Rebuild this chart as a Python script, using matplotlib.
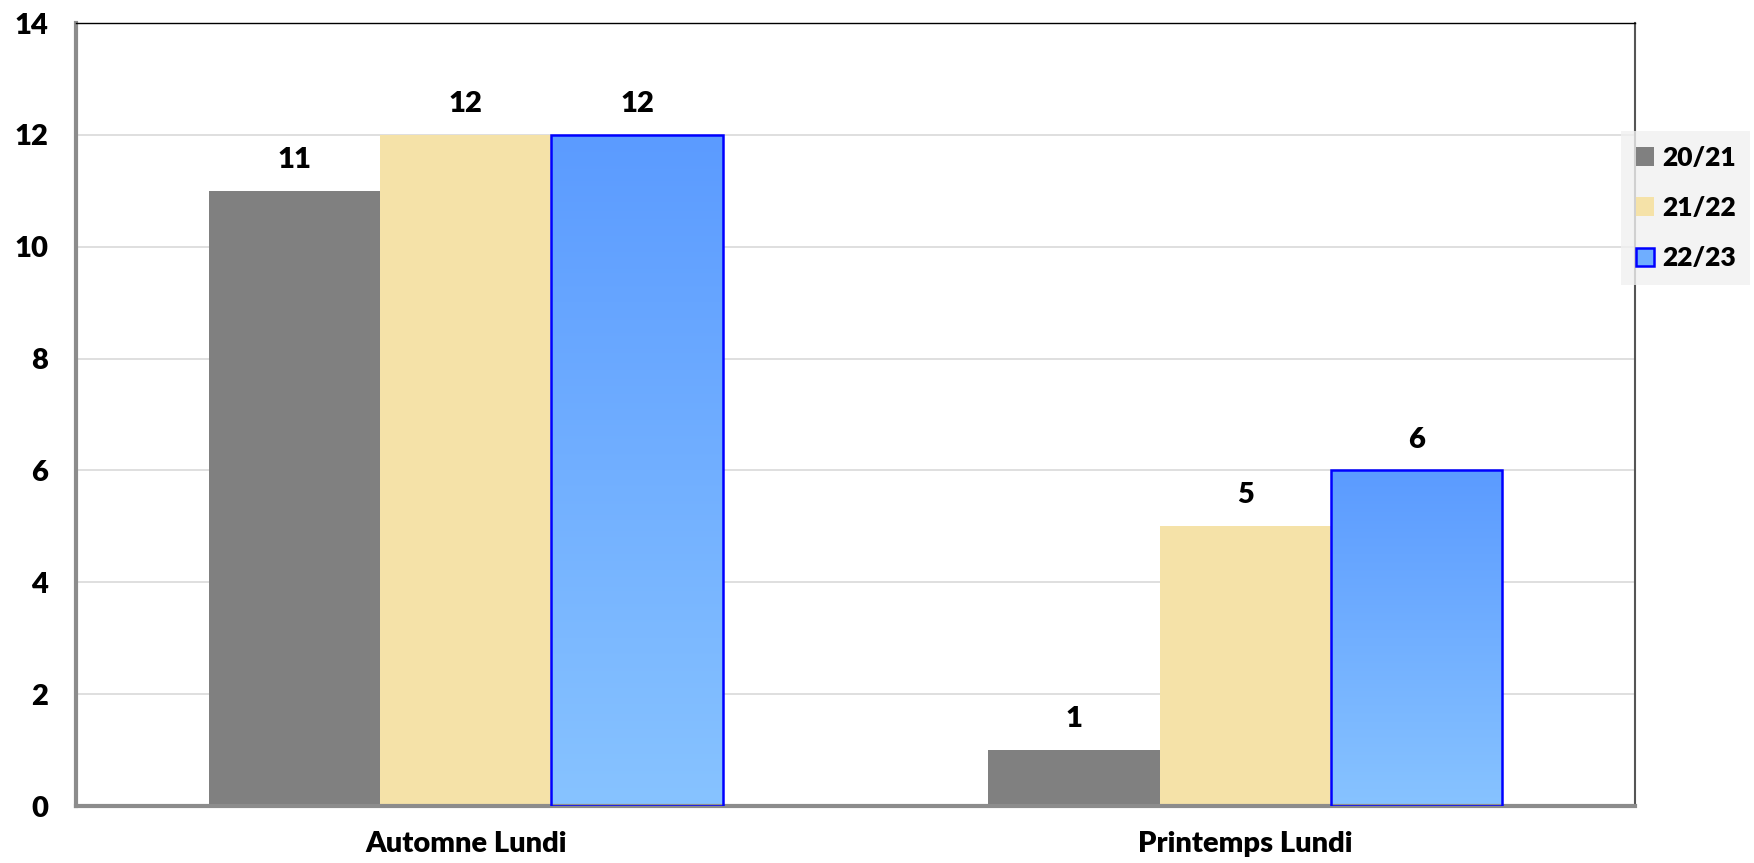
import numpy as np
import matplotlib
matplotlib.use("Agg")
import matplotlib.pyplot as plt
from matplotlib.colors import LinearSegmentedColormap

plt.rcParams['font.family'] = ['Lato', 'DejaVu Sans']

categories = ['Automne Lundi', 'Printemps Lundi']
seasons = ['20/21', '21/22', '22/23']
values_2021 = [11, 1]
values_2122 = [12, 5]
values_2223 = [12, 6]

fig = plt.figure(figsize=(17.54, 8.63), dpi=100)
ax = fig.add_axes([76 / 1754, 1 - 806 / 863, (1635 - 76) / 1754, (806 - 23) / 863])

x = np.arange(len(categories))
width = 0.22
blue_grad = LinearSegmentedColormap.from_list('blue_grad', ['#87C3FF', '#5B9BFF'])

b1 = ax.bar(x - width, values_2021, width, color='#808080', label=seasons[0], zorder=2)
b2 = ax.bar(x, values_2122, width, color='#F5E2A8', label=seasons[1], zorder=2)
b3 = ax.bar(x + width, values_2223, width, color='#6FAEFF', edgecolor='#0000FF',
            linewidth=1.8, label=seasons[2], zorder=3)

# vertical gradient inside the 22/23 bars
grad = np.linspace(0, 1, 256).reshape(-1, 1)
for bar in b3:
    bx, by = bar.get_x(), bar.get_y()
    bw, bh = bar.get_width(), bar.get_height()
    im = ax.imshow(grad, cmap=blue_grad, origin='lower', aspect='auto',
                   extent=[bx, bx + bw, by, by + bh], zorder=2.5)
    im.set_clip_path(bar)
    bar.set_facecolor('none')

for bars in (b1, b2, b3):
    for bar in bars:
        h = bar.get_height()
        ax.text(bar.get_x() + bar.get_width() / 2, h + 0.32, f'{h:g}',
                ha='center', va='bottom', fontsize=21, fontweight='heavy')

ax.set_xlim(-0.5, 1.5)
ax.set_ylim(0, 14)
ax.set_yticks(range(0, 15, 2))
ax.set_xticks(x)
ax.set_xticklabels(categories, fontsize=21, fontweight='heavy')
for lab in ax.get_yticklabels():
    lab.set_fontsize(21)
    lab.set_fontweight('heavy')
ax.tick_params(axis='both', length=0)
ax.tick_params(axis='y', pad=20)
ax.tick_params(axis='x', pad=18)
ax.grid(axis='y', color='#D9D9D9', linewidth=1.2, zorder=0)
ax.set_axisbelow(True)

ax.spines['left'].set_color('#8C8C8C')
ax.spines['left'].set_linewidth(3)
ax.spines['bottom'].set_color('#8C8C8C')
ax.spines['bottom'].set_linewidth(3)
ax.spines['top'].set_color('#000000')
ax.spines['top'].set_linewidth(1)
ax.spines['right'].set_color('#555555')
ax.spines['right'].set_linewidth(1.5)

leg = fig.legend(handles=[b1, b2, b3], labels=seasons, loc='upper left',
                 bbox_to_anchor=(1621 / 1754, 1 - 131 / 863), frameon=True,
                 fancybox=False, prop={'size': 19, 'weight': 'heavy'},
                 handlelength=0.7, handleheight=0.7, handletextpad=0.3,
                 labelspacing=1.0, borderpad=0.55, borderaxespad=0)
leg.get_frame().set_facecolor('#F0F0F0')
leg.get_frame().set_edgecolor('none')
leg.legend_handles[2].set_facecolor('#6FAEFF')

fig.savefig('out.png', dpi=100)
